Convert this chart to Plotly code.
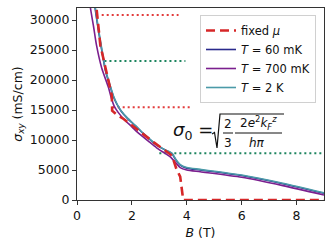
import plotly.graph_objects as go

# ---------------- data ----------------
fixed_B = [0.65, 0.71, 0.85, 1.07, 1.20, 1.27, 1.28, 1.45, 1.70, 2.20, 2.80, 3.20, 3.46, 3.62, 3.76, 3.87, 4.50, 9.00]
fixed_s = [34000, 32000, 25800, 21400, 18800, 17400, 14900, 14200, 13500, 11700, 9600, 8300, 7400, 5200, 3900, 0, 0, 0]

t60_B = [0.62, 0.66, 0.87, 1.04, 1.21, 1.33, 1.45, 1.61, 1.84, 2.12, 2.41, 2.89, 3.19, 3.45, 3.60, 3.76, 4.00, 4.49, 6.00, 7.50, 9.00]
t60_s = [34000, 32000, 25800, 21500, 18900, 17200, 16000, 14800, 13600, 12400, 11100, 9200, 8400, 7750, 6700, 5800, 5300, 5000, 4080, 2720, 1130]

t700_B = [0.45, 0.49, 0.60, 0.71, 0.90, 1.15, 1.25, 1.36, 1.50, 1.70, 2.00, 2.20, 2.60, 2.90, 3.20, 3.40, 3.60, 3.76, 4.00, 4.49, 6.00, 7.50, 9.00]
t700_s = [34000, 32000, 29000, 25800, 22000, 18700, 17000, 15600, 14600, 13500, 12200, 11300, 9800, 8700, 7800, 7200, 6200, 5400, 5000, 4700, 3780, 2400, 830]

t2K_B = [0.63, 0.67, 0.88, 1.05, 1.22, 1.34, 1.46, 1.62, 1.85, 2.13, 2.42, 2.90, 3.20, 3.46, 3.60, 3.76, 4.00, 4.49, 6.00, 7.50, 9.00]
t2K_s = [34000, 32000, 25800, 21500, 18900, 17200, 16000, 14800, 13600, 12400, 11100, 9200, 8400, 7800, 6800, 5900, 5400, 5100, 4170, 2800, 1200]

# quantised plateau levels (dotted guides)
plateau_levels = [30850, 23170, 15450, 7780]
plateau_Bstart = [0.90, 1.00, 1.30, 3.00]
plateau_Bend = [3.70, 3.95, 4.20, 9.00]
plateau_colors = ["#e23b3b", "#1e8560", "#e23b3b", "#1e8560"]

x_ticks = [0, 2, 4, 6, 8]
y_ticks = [0, 5000, 10000, 15000, 20000, 25000, 30000]

# ---------------- figure ----------------
W, H = 333, 247
L, R, T, B = 77, 324, 8, 200
FONT = "DejaVu Sans"

def px(x):
    return (x - L) / (R - L)

def py(y):
    return (B - y) / (B - T)

fig = go.Figure()

for lev, b0, b1, c in zip(plateau_levels, plateau_Bstart, plateau_Bend, plateau_colors):
    fig.add_trace(go.Scatter(x=[b0, b1], y=[lev, lev], mode="lines",
                             line=dict(color=c, width=2, dash="2px,3px"),
                             showlegend=False, hoverinfo="skip"))

fig.add_trace(go.Scatter(x=t60_B, y=t60_s, mode="lines", name="<i>T</i> = 60 mK",
                         line=dict(color="#2a2a8c", width=1.6, shape="spline", smoothing=0.6), legendrank=2))
fig.add_trace(go.Scatter(x=t700_B, y=t700_s, mode="lines", name="<i>T</i> = 700 mK",
                         line=dict(color="#7b1f8e", width=1.6, shape="spline", smoothing=0.6), legendrank=3))
fig.add_trace(go.Scatter(x=t2K_B, y=t2K_s, mode="lines", name="<i>T</i> = 2 K",
                         line=dict(color="#4b9aa8", width=1.6, shape="spline", smoothing=0.6), legendrank=4))
fig.add_trace(go.Scatter(x=fixed_B, y=fixed_s, mode="lines", name="fixed <i>μ</i>",
                         line=dict(color="#d62728", width=2.6, dash="9px,5px"), legendrank=1))

axis_common = dict(showline=True, linecolor="#333333", linewidth=1, mirror=True,
                   ticks="outside", ticklen=4, tickwidth=1, tickcolor="#333333",
                   showgrid=False, zeroline=False, automargin=False,
                   tickfont=dict(family=FONT, size=12.5, color="#111111"))

fig.update_xaxes(range=[0, 9], tickvals=x_ticks, **axis_common,
                 title=dict(text="<i>B</i> (T)", font=dict(family=FONT, size=12.5, color="#111111"), standoff=6))
fig.update_yaxes(range=[0, 32000], tickvals=y_ticks, ticktext=[str(v) for v in y_ticks], **axis_common,
                 title=dict(text="<i>σ</i><sub><i>xy</i></sub> (mS/cm)", font=dict(family=FONT, size=12.5, color="#111111"), standoff=4))

# formula annotation (built from pieces)
ann = []
def A(text, x, y, size, xanchor="center"):
    ann.append(dict(text=text, x=px(x), y=py(y), xref="paper", yref="paper",
                    xanchor=xanchor, yanchor="middle", showarrow=False,
                    font=dict(family=FONT, size=size, color="#111111")))

A("<i>σ</i><sub>0</sub> =", 171, 131, 18, xanchor="left")
A("2", 228, 124, 12)
A("3", 228, 143, 12)
A("2<i>e</i><sup>2</sup><i>k</i><sub><i>F</i></sub><sup><i>z</i></sup>", 258, 123, 12)
A("<i>hπ</i>", 257, 143, 12)

shapes = [
    dict(type="path", xref="paper", yref="paper",
         path=f"M {px(212)},{py(134)} L {px(214.5)},{py(132.5)} L {px(217)},{py(148)} L {px(220)},{py(114)} L {px(284)},{py(114)}",
         line=dict(color="#111111", width=1.2)),
    dict(type="line", xref="paper", yref="paper", x0=px(223), x1=px(233), y0=py(133), y1=py(133),
         line=dict(color="#111111", width=1)),
    dict(type="line", xref="paper", yref="paper", x0=px(235), x1=px(282), y0=py(133), y1=py(133),
         line=dict(color="#111111", width=1)),
]

fig.update_layout(
    width=W, height=H,
    margin=dict(l=L, r=W - R, t=T, b=H - B, pad=0, autoexpand=False),
    paper_bgcolor="white", plot_bgcolor="white",
    font=dict(family=FONT, size=12, color="#111111"),
    annotations=ann, shapes=shapes,
    legend=dict(x=px(316), y=py(15), xanchor="right", yanchor="top",
                bgcolor="rgba(255,255,255,0.9)", bordercolor="#d0d0d0", borderwidth=1,
                font=dict(family=FONT, size=11.5, color="#111111"),
                tracegroupgap=0, itemwidth=30),
    showlegend=True,
)

fig.write_html("out.html", config={"displayModeBar": False},
               post_script="document.body.style.margin='0';document.body.style.padding='0';")
